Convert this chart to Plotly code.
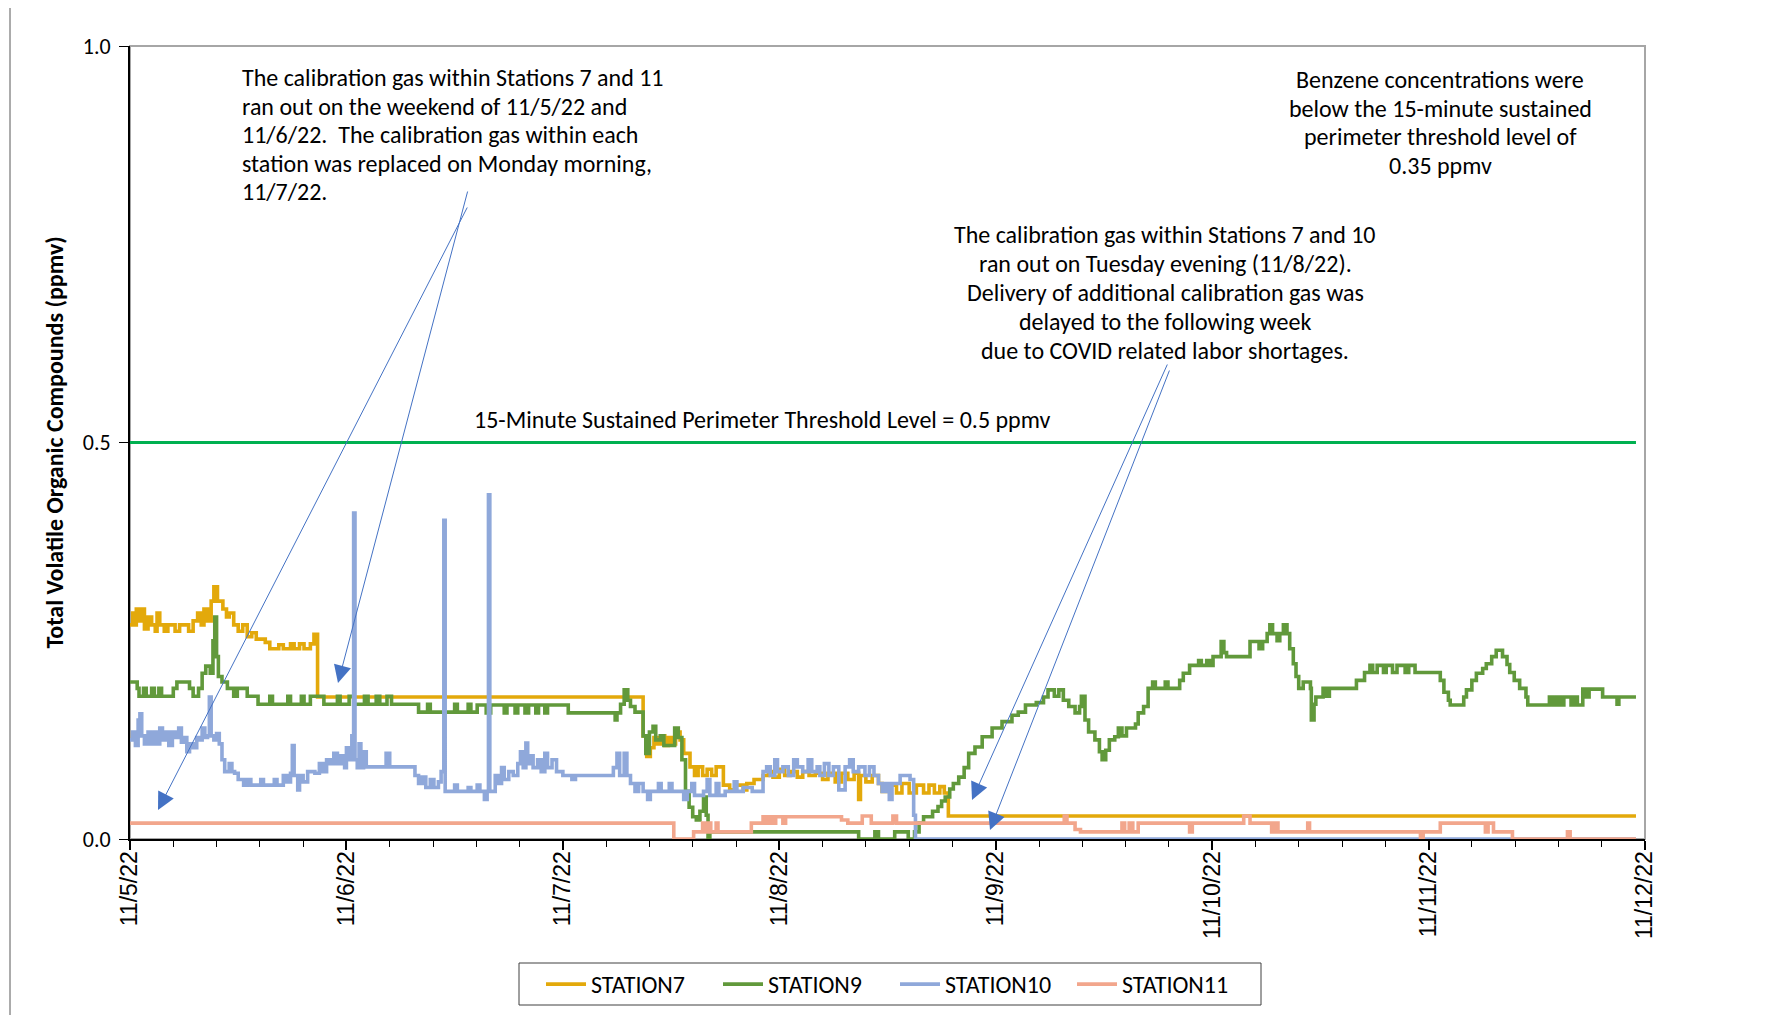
import pandas as pd
import plotly.graph_objects as go

# ---------------- data (hours since 11/5/22 00:00, ppmv) ----------------
dates = ["2022-11-05", "2022-11-06", "2022-11-07", "2022-11-08",
         "2022-11-09", "2022-11-10", "2022-11-11", "2022-11-12"]
date_labels = ["11/5/22", "11/6/22", "11/7/22", "11/8/22",
               "11/9/22", "11/10/22", "11/11/22", "11/12/22"]
y_ticks = [0.0, 0.5, 1.0]
y_tick_labels = ["0.0", "0.5", "1.0"]

threshold_value = 0.5
threshold_hours = [0.0, 167.0]

station7 = [(0.0,0.270),(0.3,0.285),(0.5,0.270),(0.7,0.290),(1.0,0.275),(1.3,0.290),(1.6,0.265),
    (2.0,0.280),(2.4,0.270),(2.8,0.262),(3.0,0.285),(3.3,0.270),(3.8,0.262),(4.2,0.270),(5.0,0.262),
    (5.5,0.270),(6.5,0.262),(7.0,0.275),(7.5,0.285),(7.9,0.270),(8.2,0.290),(8.6,0.275),(9.0,0.300),
    (9.3,0.318),(9.7,0.300),(10.3,0.290),(10.7,0.280),(11.0,0.285),(11.5,0.270),(12.0,0.262),
    (12.5,0.270),(13.0,0.255),(13.5,0.260),(14.0,0.252),(15.0,0.248),(15.5,0.240),(16.5,0.245),
    (17.0,0.240),(17.8,0.246),(18.2,0.240),(18.8,0.246),(19.3,0.240),(20.0,0.246),(20.4,0.258),
    (20.8,0.179),(56.9,0.130),(57.3,0.104),(57.7,0.115),(58.1,0.128),(58.5,0.120),(58.9,0.130),
    (59.3,0.118),(59.7,0.128),(60.1,0.120),(60.5,0.135),(61.0,0.125),(61.4,0.108),(62.1,0.091),
    (62.6,0.080),(63.0,0.091),(63.5,0.080),(64.0,0.088),(64.5,0.080),(65.0,0.091),(65.8,0.068),
    (66.5,0.062),(67.2,0.068),(68.0,0.062),(68.4,0.070),(69.2,0.075),(70.2,0.080),(70.8,0.085),
    (71.3,0.078),(72.0,0.088),(72.6,0.080),(73.2,0.085),(74.0,0.078),(74.6,0.085),(75.3,0.080),
    (76.0,0.083),(76.8,0.075),(77.4,0.083),(78.2,0.072),(78.9,0.083),(79.6,0.075),(80.3,0.083),
    (80.8,0.050),(81.0,0.080),(81.6,0.072),(82.3,0.080),(83.0,0.070),(83.4,0.060),(84.2,0.068),
    (85.0,0.058),(85.6,0.070),(86.4,0.058),(87.2,0.068),(88.0,0.058),(88.6,0.068),(89.2,0.058),
    (89.8,0.066),(90.3,0.058),(90.75,0.029),(167.0,0.029)]

station9 = [(0.0,0.198),(0.8,0.190),(1.0,0.180),(1.5,0.190),(1.8,0.180),(2.4,0.190),(2.7,0.180),
    (3.2,0.190),(3.5,0.180),(4.8,0.190),(5.2,0.198),(6.6,0.190),(7.0,0.180),(7.6,0.190),(8.0,0.209),
    (8.4,0.218),(8.9,0.209),(9.2,0.250),(9.4,0.280),(9.6,0.230),(9.8,0.205),(10.2,0.198),(10.8,0.190),
    (11.5,0.180),(11.9,0.190),(13.0,0.180),(14.2,0.170),(15.5,0.180),(15.8,0.170),(17.5,0.180),
    (17.8,0.170),(19.0,0.180),(19.3,0.170),(20.0,0.180),(21.5,0.170),(23.0,0.180),(23.3,0.170),
    (24.3,0.180),(24.8,0.170),(26.0,0.180),(26.4,0.170),(27.3,0.180),(27.7,0.170),(28.5,0.180),
    (29.0,0.170),(32.0,0.160),(33.0,0.170),(33.3,0.160),(36.0,0.170),(36.3,0.160),(37.5,0.170),
    (37.8,0.160),(38.5,0.169),(39.5,0.159),(40.0,0.169),(41.5,0.159),(41.8,0.169),(42.7,0.159),
    (43.0,0.169),(43.8,0.159),(44.2,0.169),(45.0,0.159),(45.3,0.169),(46.0,0.159),(46.3,0.169),
    (48.6,0.159),(53.8,0.150),(54.0,0.159),(54.4,0.170),(54.8,0.188),(55.2,0.175),(55.5,0.167),
    (56.0,0.160),(56.9,0.130),(57.2,0.108),(57.6,0.135),(58.0,0.142),(58.3,0.125),(58.8,0.130),
    (59.2,0.118),(60.4,0.140),(60.8,0.128),(61.2,0.100),(61.6,0.060),(62.0,0.040),(62.4,0.028),
    (62.8,0.024),(63.2,0.035),(63.6,0.053),(63.9,0.030),(64.1,0.0),(64.3,0.009),(80.8,0.0),
    (82.6,0.009),(83.0,0.0),(84.8,0.009),(86.3,0.0),(87.0,0.009),(87.5,0.020),(88.0,0.028),
    (89.0,0.035),(89.6,0.041),(90.0,0.048),(90.4,0.053),(90.9,0.063),(91.3,0.070),(91.9,0.078),
    (92.5,0.090),(93.0,0.108),(93.7,0.116),(94.5,0.129),(95.6,0.140),(96.7,0.148),(97.8,0.156),
    (98.5,0.160),(99.3,0.169),(100.5,0.172),(101.3,0.179),(101.8,0.188),(102.5,0.180),(103.0,0.188),
    (103.5,0.175),(104.1,0.167),(104.8,0.159),(105.3,0.167),(105.5,0.180),(105.9,0.150),(106.3,0.135),
    (107.0,0.125),(107.5,0.110),(107.8,0.100),(108.2,0.112),(108.6,0.125),(109.2,0.129),(109.6,0.140),
    (110.0,0.130),(110.5,0.140),(111.5,0.145),(111.8,0.159),(112.4,0.167),(112.9,0.190),(113.4,0.198),
    (113.7,0.190),(114.8,0.198),(115.1,0.190),(116.4,0.200),(116.8,0.209),(117.5,0.219),(118.5,0.225),
    (118.8,0.219),(119.4,0.225),(119.7,0.219),(120.1,0.230),(121.0,0.249),(121.3,0.235),(121.6,0.230),
    (124.2,0.249),(125.2,0.240),(125.6,0.249),(126.1,0.259),(126.4,0.270),(126.7,0.259),(127.2,0.250),
    (127.5,0.259),(127.9,0.270),(128.3,0.259),(128.6,0.240),(129.0,0.221),(129.3,0.205),(129.6,0.190),
    (130.1,0.198),(130.9,0.190),(131.0,0.150),(131.3,0.170),(131.5,0.179),(132.3,0.190),(132.7,0.180),
    (133.0,0.190),(136.0,0.200),(136.9,0.210),(137.5,0.219),(137.8,0.210),(138.3,0.219),(139.0,0.210),
    (139.3,0.219),(140.0,0.210),(140.5,0.219),(141.4,0.210),(141.8,0.219),(142.5,0.210),(145.3,0.200),
    (145.7,0.185),(146.2,0.175),(146.4,0.169),(147.9,0.179),(148.2,0.188),(148.8,0.200),(149.3,0.209),
    (150.0,0.215),(150.4,0.221),(151.0,0.230),(151.5,0.238),(152.2,0.230),(152.7,0.220),(153.0,0.210),
    (153.5,0.200),(154.1,0.190),(154.8,0.179),(155.0,0.169),(157.4,0.179),(157.8,0.169),(158.2,0.179),
    (158.6,0.169),(159.0,0.179),(159.8,0.169),(160.1,0.179),(160.5,0.169),(161.1,0.189),(161.5,0.179),
    (161.8,0.189),(163.3,0.179),(164.9,0.170),(165.1,0.179),(167.0,0.179)]

station10 = [(0.0,0.125),(0.3,0.135),(0.6,0.118),(0.9,0.150),(1.1,0.158),(1.3,0.130),(1.6,0.120),
    (2.0,0.135),(2.3,0.120),(2.7,0.135),(3.0,0.120),(3.3,0.140),(3.6,0.125),(4.0,0.135),(4.3,0.118),
    (4.7,0.135),(5.0,0.128),(5.4,0.140),(5.7,0.122),(6.0,0.128),(6.3,0.110),(6.6,0.120),(7.0,0.115),
    (7.4,0.128),(7.7,0.125),(8.0,0.140),(8.3,0.128),(8.6,0.130),(8.8,0.179),(9.0,0.130),(9.3,0.125),
    (9.6,0.133),(9.9,0.120),(10.2,0.100),(10.5,0.085),(11.0,0.095),(11.3,0.085),(11.6,0.083),
    (12.0,0.075),(12.6,0.068),(13.0,0.075),(13.4,0.068),(14.5,0.075),(14.8,0.068),(16.0,0.075),
    (16.3,0.068),(17.0,0.080),(17.4,0.072),(17.8,0.083),(18.0,0.118),(18.2,0.080),(18.6,0.062),
    (18.8,0.080),(19.2,0.072),(19.7,0.085),(20.5,0.083),(21.0,0.095),(21.4,0.085),(21.8,0.100),
    (22.2,0.095),(22.6,0.108),(23.0,0.095),(23.4,0.105),(23.8,0.090),(24.0,0.115),(24.3,0.100),
    (24.6,0.130),(24.8,0.411),(24.95,0.100),(25.2,0.090),(25.4,0.120),(25.6,0.090),(25.9,0.110),
    (26.2,0.091),(28.4,0.108),(28.8,0.091),(31.6,0.080),(32.0,0.070),(32.4,0.078),(32.8,0.065),
    (33.3,0.075),(33.7,0.065),(34.2,0.072),(34.5,0.085),(34.8,0.402),(34.95,0.060),(36.0,0.068),
    (36.3,0.060),(37.5,0.065),(37.8,0.060),(38.5,0.068),(38.8,0.060),(39.3,0.050),(39.6,0.060),
    (39.75,0.434),(39.9,0.060),(40.5,0.080),(40.8,0.070),(41.2,0.090),(41.5,0.075),(42.0,0.085),
    (42.5,0.080),(43.0,0.095),(43.3,0.110),(43.6,0.090),(43.9,0.121),(44.1,0.095),(44.4,0.105),
    (44.7,0.090),(45.2,0.100),(45.6,0.085),(46.0,0.108),(46.3,0.090),(46.8,0.100),(47.3,0.085),
    (48.0,0.080),(49.0,0.075),(49.4,0.080),(53.6,0.090),(54.0,0.108),(54.3,0.080),(54.8,0.108),
    (55.1,0.080),(55.5,0.070),(56.0,0.060),(56.4,0.070),(56.9,0.060),(57.4,0.050),(57.7,0.060),
    (58.6,0.070),(58.9,0.060),(59.8,0.070),(60.1,0.060),(61.4,0.050),(61.8,0.060),(62.3,0.070),
    (62.6,0.055),(63.6,0.060),(64.0,0.075),(64.3,0.055),(65.0,0.070),(65.3,0.055),(66.0,0.060),
    (67.0,0.072),(67.3,0.060),(68.0,0.065),(69.0,0.060),(70.2,0.085),(70.6,0.091),(71.0,0.080),
    (71.5,0.100),(71.8,0.085),(72.4,0.091),(73.0,0.080),(73.6,0.100),(74.0,0.091),(74.6,0.085),
    (75.2,0.100),(75.6,0.085),(76.2,0.091),(76.5,0.080),(77.0,0.095),(77.5,0.080),(78.0,0.091),
    (78.6,0.062),(79.3,0.091),(79.8,0.100),(80.2,0.085),(80.8,0.091),(81.5,0.080),(82.0,0.091),
    (82.5,0.080),(83.0,0.070),(83.4,0.060),(83.8,0.070),(84.2,0.050),(84.5,0.070),(85.4,0.080),
    (86.5,0.075),(86.9,0.030),(87.1,0.0),(167.0,0.0)]

station11 = [(0.0,0.020),(60.3,0.0),(62.5,0.009),(63.5,0.020),(63.7,0.009),(64.0,0.020),(64.4,0.009),
    (65.0,0.020),(65.2,0.009),(68.9,0.020),(70.2,0.028),(70.6,0.020),(71.0,0.028),(71.3,0.020),
    (71.6,0.028),(72.4,0.020),(72.7,0.028),(78.9,0.024),(79.6,0.020),(81.2,0.029),(82.2,0.020),
    (84.6,0.029),(85.0,0.020),(103.6,0.029),(103.9,0.020),(104.8,0.012),(105.4,0.009),(110.0,0.020),
    (110.3,0.009),(110.8,0.020),(111.2,0.009),(111.8,0.020),(117.5,0.009),(117.8,0.020),(123.5,0.029),
    (124.2,0.020),(126.6,0.009),(126.9,0.020),(127.3,0.009),(130.6,0.020),(130.8,0.009),(143.1,0.0),
    (143.4,0.009),(145.3,0.020),(150.3,0.009),(150.6,0.020),(151.2,0.009),(153.3,0.0),(159.4,0.009),
    (159.7,0.0),(167.0,0.0)]

series_names = ["STATION7", "STATION9", "STATION10", "STATION11"]
series_data = [station7, station9, station10, station11]
series_colors = ["#E3A90B", "#61993B", "#8FA8DA", "#F2A68C"]

# ---------------- helpers ----------------
BASE = pd.Timestamp(dates[0])


def to_time(hours):
    return [BASE + pd.Timedelta(hours=h) for h in hours]


# The page body has an 8px margin, so the figure is 8px smaller and margins shifted.
OFF = 8
PL, PR, PT, PB = 130, 1645, 46, 839          # plot area in page pixels
W, H = 1772 - OFF, 1015 - OFF


def xp(px):
    return (px - PL) / (PR - PL)


def yp(py):
    return (PB - py) / (PB - PT)


FONT = "Carlito, Lato, 'Liberation Sans', sans-serif"
TXT = 24

fig = go.Figure()

fig.add_trace(go.Scatter(
    x=to_time(threshold_hours), y=[threshold_value] * len(threshold_hours),
    mode="lines", line=dict(color="#00B050", width=3), showlegend=False, hoverinfo="skip"))

for name, data, color in zip(series_names, series_data, series_colors):
    fig.add_trace(go.Scatter(
        x=to_time([h for h, _ in data]), y=[v for _, v in data],
        mode="lines", name=name, line=dict(color=color, width=3.6, shape="hv")))

annotations = []

annotations.append(dict(text="<b>Total Volatile Organic Compounds (ppmv)</b>", xref="paper", yref="paper",
                        x=xp(54), y=0.5, textangle=-90, showarrow=False, xanchor="center", yanchor="middle",
                        font=dict(family=FONT, size=24, color="#000000")))


def add_block(lines, x, y_center, spacing, anchor):
    n = len(lines)
    for i, line in enumerate(lines):
        y = y_center + (i - (n - 1) / 2) * spacing
        annotations.append(dict(text=line, xref="paper", yref="paper", x=xp(x), y=yp(y),
                                xanchor=anchor, yanchor="middle", showarrow=False,
                                font=dict(family=FONT, size=TXT, color="#000000")))


block1 = ["The calibration gas within Stations 7 and 11",
          "ran out on the weekend of 11/5/22 and",
          "11/6/22.  The calibration gas within each",
          "station was replaced on Monday morning,",
          "11/7/22."]
add_block(block1, 240, 134.5, 28.5, "left")

block2 = ["Benzene concentrations were", "below the 15-minute sustained",
          "perimeter threshold level of", "0.35 ppmv"]
add_block(block2, 1440, 122.6, 28.5, "center")

block3 = ["The calibration gas within Stations 7 and 10",
          "ran out on Tuesday evening (11/8/22).",
          "Delivery of additional calibration gas was",
          "delayed to the following week",
          "due to COVID related labor shortages."]
add_block(block3, 1165, 292.5, 28.8, "center")

annotations.append(dict(text="15-Minute Sustained Perimeter Threshold Level = 0.5 ppmv",
                        xref="paper", yref="paper", x=xp(762), y=yp(419), xanchor="center",
                        yanchor="middle", showarrow=False, font=dict(family=FONT, size=TXT, color="#000000")))

# arrows: (head_px, head_py, tail_px, tail_py) in page pixels
arrows = [(158, 810, 468, 206), (338, 683, 468, 190), (972, 800, 1168, 363), (990, 830, 1170, 369)]
for hx, hy, tx, ty in arrows:
    annotations.append(dict(text="", xref="paper", yref="paper", x=xp(hx), y=yp(hy),
                            axref="pixel", ayref="pixel", ax=tx - hx, ay=ty - hy,
                            showarrow=True, arrowhead=2, arrowsize=3.5, arrowwidth=1,
                            arrowcolor="#4472C4", standoff=0))

shapes = [
    dict(type="rect", xref="paper", yref="paper", x0=0, x1=1, y0=0, y1=1,
         line=dict(color="#A6A6A6", width=2), layer="below"),
    dict(type="rect", xref="paper", yref="paper", x0=xp(10), x1=xp(1800), y0=yp(1040), y1=yp(5),
         line=dict(color="#595959", width=1), layer="below"),
    # legend box
    dict(type="rect", xref="paper", yref="paper", x0=xp(519), x1=xp(1261), y0=yp(1005), y1=yp(963),
         line=dict(color="#404040", width=1), layer="below"),
]

fig.update_layout(
    width=W, height=H,
    margin=dict(l=PL - OFF, r=(W + OFF) - PR, t=PT - OFF, b=(H + OFF) - PB, pad=0, autoexpand=False),
    paper_bgcolor="white", plot_bgcolor="white",
    font=dict(family=FONT, color="#000000"),
    showlegend=True,
    legend=dict(orientation="h", x=xp(541), xanchor="left", y=yp(962), yanchor="top",
                borderwidth=0, bgcolor="rgba(0,0,0,0)",
                entrywidth=122, entrywidthmode="pixels",
                font=dict(family=FONT, size=TXT, color="#000000"), itemwidth=40),
    annotations=annotations, shapes=shapes,
    xaxis=dict(type="date", range=[dates[0], dates[-1]], tickvals=dates, ticktext=date_labels,
               tickangle=-90, ticks="outside", ticklen=9, tickwidth=1.5, tickcolor="#000000",
               showline=True, linecolor="#000000", linewidth=2, showgrid=False, zeroline=False,
               ticklabelstandoff=-8, automargin=False,
               tickfont=dict(family="'Liberation Sans', Arial, sans-serif", size=23, color="#000000"),
               minor=dict(ticks="outside", ticklen=6, tickwidth=1, tickcolor="#000000",
                          dtick=4.8 * 3600 * 1000, showgrid=False)),
    yaxis=dict(range=[0, 1], tickvals=y_ticks, ticktext=y_tick_labels, ticks="outside", ticklen=9,
               tickcolor="#000000", showline=True, linecolor="#000000", linewidth=2,
               showgrid=False, zeroline=False, ticklabelstandoff=4, automargin=False,
               tickfont=dict(family=FONT, size=22, color="#000000")),
)

fig.write_html("out.html")
